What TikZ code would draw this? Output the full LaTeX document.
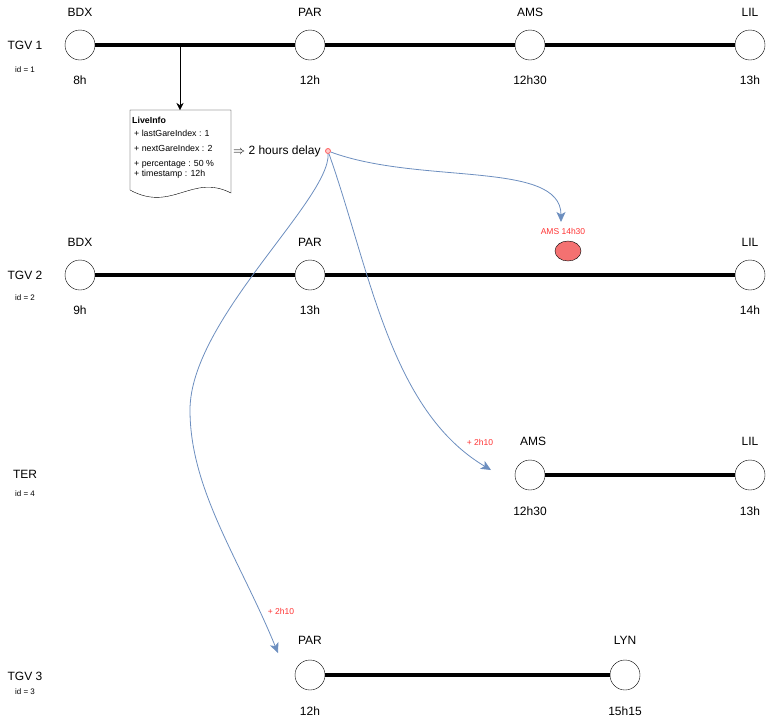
\documentclass[tikz,border=0pt]{standalone}
\usepackage{fontspec}
\setmainfont{Liberation Sans}
\usetikzlibrary{arrows.meta,shapes.geometric}

\definecolor{delayblue}{HTML}{6C8EBF}
\definecolor{delayred}{HTML}{FF3333}
\definecolor{amsfill}{HTML}{F47171}

\tikzset{
  gare/.style={circle,draw=black,fill=white,minimum size=30pt,inner sep=0pt},
  rail/.style={line width=4pt},
  txt/.style={inner sep=0pt,font=\fontsize{12}{14}\selectfont},
  idtxt/.style={inner sep=0pt,font=\fontsize{8}{10}\selectfont},
  infotxt/.style={anchor=west,inner sep=0pt,font=\fontsize{8.8}{10}\selectfont},
  redtxt/.style={inner sep=0pt,text=delayred,font=\fontsize{8.5}{10}\selectfont},
  delay/.style={delayblue,line width=0.8pt,-{Stealth[length=10pt,width=9pt,inset=2.5pt]}},
}

\begin{document}
\begin{tikzpicture}[x=1pt,y=-1pt]
\useasboundingbox (0,0) rectangle (771,721);

% TGV 1
\node[txt] (t1name) at (25,45) {TGV 1};
\node[idtxt] (t1id) at (25,70) {id = 1};
\node[gare] (t1bdx) at (80,45) {};
\node[gare] (t1par) at (310,45) {};
\node[gare] (t1ams) at (530,45) {};
\node[gare] (t1lil) at (750,45) {};
\draw[rail] (t1bdx) -- (t1par);
\draw[rail] (t1par) -- (t1ams);
\draw[rail] (t1ams) -- (t1lil);
\node[txt] (t1bdxn) at (80,12) {BDX};
\node[txt] (t1parn) at (310,12) {PAR};
\node[txt] (t1amsn) at (530,12) {AMS};
\node[txt] (t1liln) at (750,12) {LIL};
\node[txt] (t1bdxh) at (80,80) {8h};
\node[txt] (t1parh) at (310,80) {12h};
\node[txt] (t1amsh) at (530,80) {12h30};
\node[txt] (t1lilh) at (750,80) {13h};

% live info
\coordinate (info) at (180,47);
\coordinate (infotop) at (180,110);
\draw[-{Stealth[length=7pt,width=7pt]}] (info) -- (infotop);
\draw[fill=white] (130,110) -- (231,110) -- (231,193)
  .. controls (192,173) and (172,213) .. (130,190) -- cycle;
\node[anchor=west,inner sep=0pt,font=\fontsize{8.8}{10}\selectfont\bfseries] (livetitle) at (132,120) {LiveInfo};
\node[infotxt] (live1) at (134,133) {+ lastGareIndex : 1};
\node[infotxt] (live2) at (134,148) {+ nextGareIndex : 2};
\node[infotxt] (live3) at (134,164) {+ percentage : 50 \%};
\node[infotxt] (live4) at (134,174) {+ timestamp : 12h};
\node[txt,anchor=west] (delaytxt) at (233,151) {$\Rightarrow$ 2 hours delay};
\node[circle,draw=delayred!80,fill=delayred!25,line width=0.8pt,minimum size=5pt,inner sep=0pt] (src) at (328,151) {};

% TGV 2
\node[txt] (t2name) at (25,275) {TGV 2};
\node[idtxt] (t2id) at (25,298) {id = 2};
\node[gare] (t2bdx) at (80,275) {};
\node[gare] (t2par) at (310,275) {};
\node[gare] (t2lil) at (750,275) {};
\coordinate (t2joint) at (512,275);
\draw[rail] (t2bdx) -- (t2par);
\draw[rail] (t2par) -- (t2joint) -- (t2lil);
\node[txt] (t2bdxn) at (80,242) {BDX};
\node[txt] (t2parn) at (310,242) {PAR};
\node[txt] (t2liln) at (750,242) {LIL};
\node[txt] (t2bdxh) at (80,310) {9h};
\node[txt] (t2parh) at (310,310) {13h};
\node[txt] (t2lilh) at (750,310) {14h};
\node[ellipse,draw=black,fill=amsfill,minimum width=26pt,minimum height=20pt,inner sep=0pt] (t2ams) at (568,251) {};
\node[redtxt] (t2amsn) at (563,231) {AMS 14h30};

% TER
\node[txt] (tername) at (25,474) {TER};
\node[idtxt] (terid) at (25,494) {id = 4};
\node[gare] (terams) at (530,475) {};
\node[gare] (terlil) at (750,475) {};
\draw[rail] (terams) -- (terlil);
\node[txt] (teramsn) at (533,441) {AMS};
\node[txt] (terliln) at (750,441) {LIL};
\node[txt] (teramsh) at (530,511) {12h30};
\node[txt] (terlilh) at (750,511) {13h};
\node[redtxt] (terdelay) at (480,442) {+ 2h10};

% TGV 3
\node[txt] (t3name) at (25,676) {TGV 3};
\node[idtxt] (t3id) at (25,692) {id = 3};
\node[gare] (t3par) at (310,675) {};
\node[gare] (t3lyn) at (625,675) {};
\draw[rail] (t3par) -- (t3lyn);
\node[txt] (t3parn) at (310,640) {PAR};
\node[txt] (t3lynn) at (625,640) {LYN};
\node[txt] (t3parh) at (310,711) {12h};
\node[txt] (t3lynh) at (625,711) {15h15};
\node[redtxt] (t3delay) at (281,611) {+ 2h10};

% delay propagation
\coordinate (toams) at (561,222);
\coordinate (toter) at (491,470);
\coordinate (totgv) at (278,653);
\draw[delay] (src) .. controls (420,185) and (561,160) .. (toams);
\draw[delay] (src) .. controls (370,270) and (390,410) .. (toter);
\draw[delay] (src) .. controls (330,200) and (190,320) .. (190,410)
  .. controls (190,490) and (240,560) .. (totgv);
\end{tikzpicture}
\end{document}
